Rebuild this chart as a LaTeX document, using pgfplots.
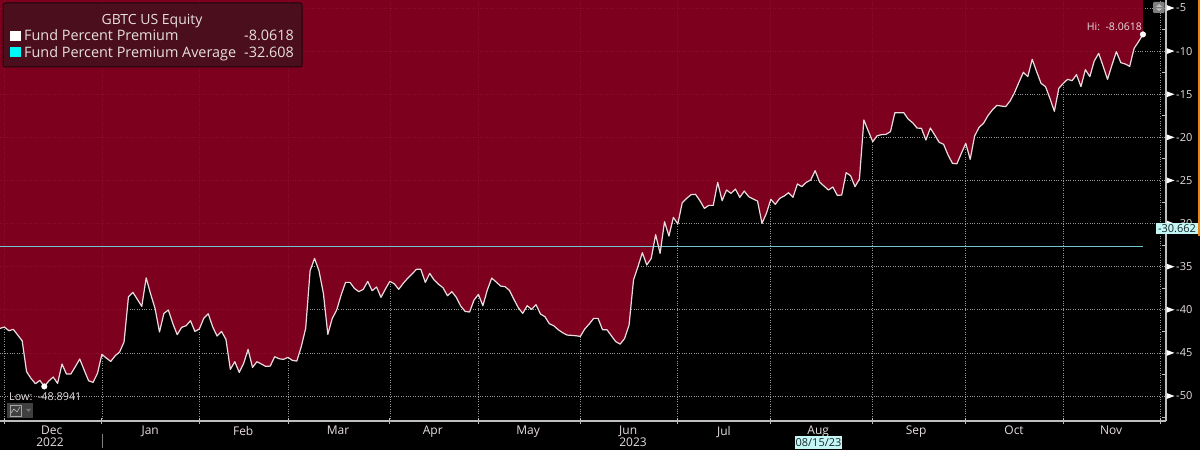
\documentclass[border=0pt]{standalone}
\usepackage{fontspec}
\setmainfont{Open Sans}
\usepackage{pgfplots}
\usepackage{pgfplotstable}
\pgfplotsset{compat=1.18}
\definecolor{bbred}{RGB}{139,0,34}
\definecolor{bbline}{RGB}{238,218,222}
\definecolor{bbavg}{RGB}{112,196,206}
\definecolor{bbtext}{RGB}{232,222,224}
\definecolor{bbgrid}{RGB}{150,150,150}
\definecolor{bbaxis}{RGB}{190,190,190}
\definecolor{bbbox}{RGB}{74,14,28}
\definecolor{bbcyan}{RGB}{196,246,246}
\definecolor{bbswatch}{RGB}{0,250,250}
\definecolor{bborange}{RGB}{240,130,20}
\pgfplotstableread[header=false,row sep=\\]{
-42.16\\-42.0\\-42.43\\-42.27\\-42.93\\-43.59\\-47.18\\-47.96\\-48.58\\-48.19\\
-48.89\\-48.27\\-47.80\\-48.54\\-46.29\\-47.45\\-47.45\\-46.60\\-45.71\\-46.99\\
-48.23\\-48.42\\-47.38\\-45.17\\-45.60\\-45.99\\-45.33\\-44.90\\-43.74\\-38.48\\
-37.98\\-38.79\\-39.60\\-36.30\\-38.17\\-39.84\\-42.58\\-40.42\\-40.03\\-41.58\\
-42.89\\-42.04\\-41.85\\-41.27\\-42.51\\-42.23\\-40.99\\-40.46\\-41.96\\-43.05\\
-42.51\\-43.43\\-46.91\\-46.02\\-47.26\\-46.22\\-44.59\\-46.68\\-46.02\\-46.29\\
-46.57\\-46.53\\-45.44\\-45.68\\-45.75\\-45.52\\-45.87\\-45.95\\-44.28\\-42.16\\
-35.47\\-34.04\\-35.47\\-38.10\\-42.85\\-41.00\\-40.03\\-38.29\\-36.82\\-36.82\\
-37.52\\-37.90\\-37.63\\-36.71\\-37.79\\-37.36\\-38.56\\-37.59\\-36.71\\-36.98\\
-37.63\\-36.94\\-36.36\\-35.85\\-35.31\\-35.31\\-36.82\\-35.78\\-36.55\\-37.05\\
-37.44\\-38.37\\-37.90\\-38.56\\-39.57\\-40.19\\-40.26\\-38.87\\-38.21\\-39.53\\
-37.71\\-36.32\\-36.78\\-37.25\\-37.32\\-37.75\\-38.79\\-39.76\\-40.42\\-39.53\\
-39.95\\-39.41\\-40.49\\-40.80\\-41.62\\-41.85\\-42.31\\-42.66\\-42.93\\-42.97\\
-43.01\\-43.09\\-42.23\\-41.65\\-41.00\\-41.00\\-42.31\\-42.31\\-43.01\\-43.70\\
-43.98\\-43.32\\-41.77\\-36.55\\-35.00\\-33.38\\-34.81\\-34.04\\-31.29\\-33.46\\
-29.78\\-31.45\\-29.28\\-30.05\\-27.58\\-27.08\\-26.65\\-26.61\\-27.35\\-28.24\\
-27.89\\-27.89\\-25.22\\-27.35\\-26.11\\-26.50\\-26.00\\-26.96\\-26.23\\-26.88\\
-27.15\\-27.39\\-29.98\\-28.82\\-27.19\\-27.77\\-27.08\\-26.81\\-26.42\\-26.96\\
-25.41\\-25.72\\-25.22\\-24.95\\-23.87\\-25.18\\-25.65\\-26.11\\-25.76\\-26.73\\
-26.69\\-24.10\\-24.45\\-25.72\\-24.84\\-17.99\\-19.27\\-20.50\\-19.81\\-19.69\\
-19.65\\-19.34\\-17.14\\-17.14\\-17.14\\-17.88\\-18.30\\-18.92\\-18.96\\-20.31\\
-18.92\\-19.73\\-20.58\\-20.81\\-22.05\\-23.02\\-23.06\\-21.86\\-20.70\\-22.55\\
-19.85\\-18.84\\-18.38\\-17.49\\-16.83\\-16.29\\-16.37\\-16.44\\-15.79\\-14.82\\
-13.62\\-12.46\\-12.96\\-10.95\\-12.38\\-13.74\\-14.12\\-15.48\\-16.99\\-14.32\\
-13.74\\-13.27\\-13.43\\-12.73\\-14.12\\-12.15\\-12.96\\-11.15\\-10.26\\-11.73\\
-13.27\\-11.61\\-10.06\\-11.34\\-11.49\\-11.77\\-9.68\\-8.90\\-8.0618\\
}\premium
\begin{document}
\begin{tikzpicture}
\useasboundingbox (0,0) rectangle (1200pt,450pt);
\fill[black] (0,0) rectangle (1200pt,450pt);
\begin{axis}[
  at={(0pt,29pt)}, anchor=south west,
  scale only axis, width=1166pt, height=421pt,
  xmin=0, xmax=263.2, ymin=-52.9, ymax=-4.07,
  clip=false,
  axis background/.style={fill=black},
  axis x line*=bottom, axis y line*=right,
  axis line style={-, draw=bbaxis, line width=1.2pt},
  ytick={-50,-45,-40,-35,-30,-25,-20,-15,-10,-5},
  yticklabels={-50,-45,-40,-35,-30,-25,-20,-15,-10,-5},
  minor ytick={-52.5,-47.5,-42.5,-37.5,-32.5,-27.5,-22.5,-17.5,-12.5,-7.5},
  ymajorgrids=true,
  grid style={bbgrid, dotted, line width=0.7pt},
  minor y tick style={bbaxis, line width=0.8pt},
  y tick style={bbaxis},
  minor tick length=4pt,
  yticklabel style={font=\fontsize{11}{13}\selectfont, text=bbtext, anchor=west, inner sep=0pt, xshift=10pt},
  xtick={11.7,33.9,54.9,76.3,97.7,119.2,141.8,163.4,184.7,206.8,228.9,250.8},
  xticklabels={Dec,Jan,Feb,Mar,Apr,May,Jun,Jul,Aug,Sep,Oct,Nov},
  x tick style={draw=none},
  xticklabel style={font=\fontsize{12}{14}\selectfont, text=bbtext, inner sep=0pt, yshift=-5pt},
  major tick length=0pt,
  extra x ticks={1,23,45,65,88,108,131,153,174,197,218,240,262},
  extra x tick labels={},
  extra x tick style={xmajorgrids=true, major tick length=6pt, tick align=center,
     x tick style={draw=bbaxis, line width=0.8pt}},
]
\addplot[draw=none, fill=bbred, fill opacity=0.9, forget plot]
  table[x expr=\coordindex, y index=0] {\premium} \closedcycle;
\addplot[bbavg, line width=1pt, forget plot] coordinates {(0,-32.608) (258,-32.608)};
\addplot[bbline, line width=1.2pt, line join=round, forget plot]
  table[x expr=\coordindex, y index=0] {\premium};
\addplot[only marks, mark=*, mark size=2.8pt, white, forget plot] coordinates {(10,-48.8941) (258,-8.0618)};
\pgfplotsinvokeforeach{-5,-10,-15,-20,-25,-30,-35,-40,-45,-50}{
  \fill[white] (axis cs:263.2,#1) ++(0.5pt,3pt) -- ++(8pt,-3pt) -- ++(-8pt,-3pt) -- cycle;
}
\end{axis}
% legend box
\fill[bbbox, draw=black!60!bbbox, line width=1pt, rounded corners=2pt] (3pt,383pt) rectangle (302pt,447pt);
\node[text=bbtext, font=\fontsize{14}{16}\selectfont, inner sep=0pt, anchor=base] at (152pt,425pt) {GBTC US Equity};
\fill[white] (10pt,409.3pt) rectangle (20.5pt,419.3pt);
\fill[bbswatch] (10pt,392.7pt) rectangle (20.5pt,403.2pt);
\node[text=bbtext, font=\fontsize{14.4}{16}\selectfont, inner sep=0pt, anchor=base west] at (24pt,409pt) {Fund Percent Premium};
\node[text=bbtext, font=\fontsize{14.4}{16}\selectfont, inner sep=0pt, anchor=base west] at (24pt,392.5pt) {Fund Percent Premium Average};
\node[text=bbtext, font=\fontsize{14.4}{16}\selectfont, inner sep=0pt, anchor=base east] at (294pt,409pt) {-8.0618};
\node[text=bbtext, font=\fontsize{14.4}{16}\selectfont, inner sep=0pt, anchor=base east] at (294pt,392.5pt) {-32.608};
% hi / low labels
\node[text=bbtext, font=\fontsize{10.5}{12}\selectfont, inner sep=0pt, anchor=east] at (1142pt,423pt) {Hi:\ \ -8.0618};
\node[text=bbtext, font=\fontsize{10.8}{12}\selectfont, inner sep=0pt, anchor=west] at (9pt,53.5pt) {Low:\ \ -48.8941};
% icons
\fill[black!75!white] (7pt,32pt) rectangle (33pt,47pt);
\draw[black!35!white, line width=0.6pt] (10pt,34pt) rectangle (21pt,45pt);
\draw[black!25!white, line width=0.6pt] (11pt,37pt) -- (14pt,41pt) -- (17pt,38pt) -- (20pt,43pt);
\fill[black!55!white] (26pt,41pt) -- (31pt,41pt) -- (28.5pt,38pt) -- cycle;
\fill[black!50!white, rounded corners=1pt] (1153pt,437pt) rectangle (1164.5pt,448pt);
\fill[black!25!white] (1156pt,443pt) -- (1162pt,443pt) -- (1159pt,446pt) -- cycle;
\fill[black!25!white] (1156pt,441.5pt) -- (1162pt,441.5pt) -- (1159pt,439pt) -- cycle;
% year labels and separator
\node[text=bbtext, font=\fontsize{12}{14}\selectfont, inner sep=0pt] at (50pt,8pt) {2022};
\node[text=bbtext, font=\fontsize{12}{14}\selectfont, inner sep=0pt] at (633pt,8pt) {2023};
\draw[black!50!white, line width=1pt] (102pt,2pt) -- (102pt,16pt);
% value flags
\fill[bbcyan] (795pt,1pt) rectangle (842pt,14pt);
\node[text=black!80!bbavg, font=\fontsize{11}{13}\selectfont, inner sep=0pt] at (818.5pt,7.5pt) {08/15/23};
\fill[bbcyan] (1156pt,216pt) rectangle (1198pt,227pt);
\node[text=black!80!bbavg, font=\fontsize{11}{13}\selectfont, inner sep=0pt] at (1177pt,221.5pt) {-30.662};
\fill[bborange] (1198.3pt,214pt) rectangle (1200pt,450pt);
\end{tikzpicture}
\end{document}
